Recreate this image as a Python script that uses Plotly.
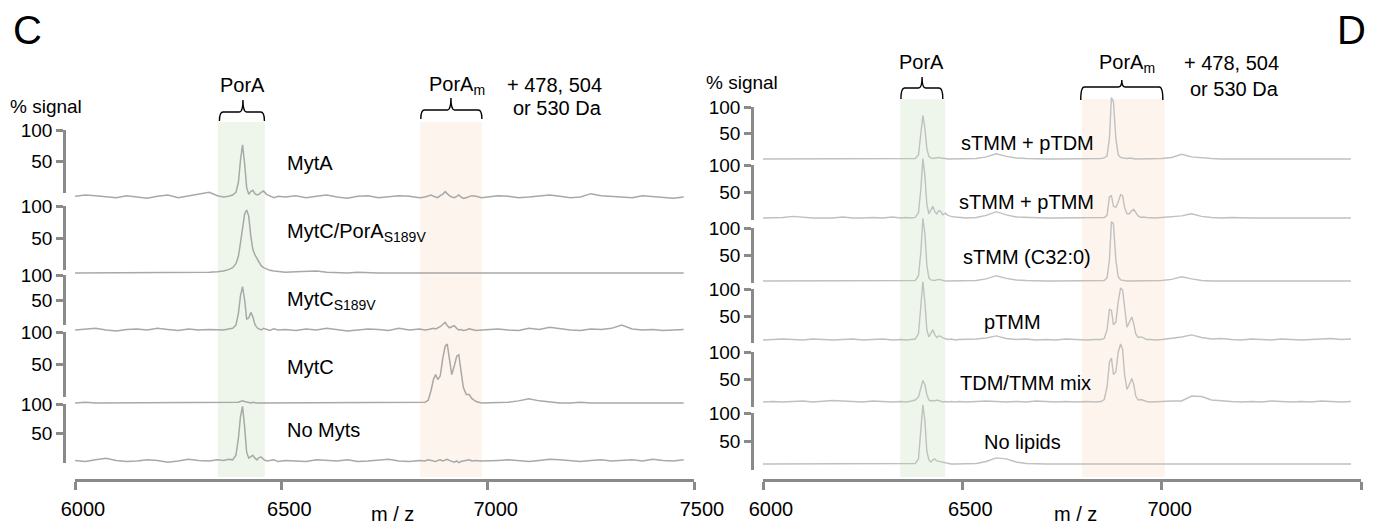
import plotly.graph_objects as go

W, H = 1384, 524

# shared m/z sampling grid (denser around the PorA and PorA_m peaks)
mz = [6000, 6025, 6050, 6075, 6100, 6125, 6150, 6175, 6200, 6225, 6250, 6275, 6300, 6325,
      6345, 6360, 6372, 6382, 6390, 6396, 6401, 6406, 6411, 6416, 6421, 6426, 6431, 6436,
      6441, 6446, 6451, 6457, 6464, 6472, 6482, 6492,
      6510, 6535, 6560, 6585, 6610, 6635, 6660, 6685, 6710, 6735, 6760, 6785, 6810, 6835,
      6848, 6856, 6863, 6869, 6874, 6879, 6885, 6891, 6897, 6902, 6907, 6913, 6919, 6925,
      6930, 6935, 6941, 6948, 6955, 6962, 6972, 6985,
      7000, 7025, 7050, 7075, 7100, 7125, 7150, 7175, 7200, 7225, 7250, 7275, 7300, 7325,
      7350, 7375, 7400, 7425, 7450, 7475]

# panel C: % signal
c_labels = ["MytA", "MytC/PorA<sub>S189V</sub>", "MytC<sub>S189V</sub>", "MytC", "No Myts"]
myta = [1, 3, 2, 0, -1, 2, 0, -2, 1, 3, -1, 2, 4, 7,
        2, 0, 1, 3, 7, 22, 55, 78, 50, 14, 4, 8, 10, 5, 3, 4, 7, 9, 4, 2, -1, 1,
        0, 2, -1, 1, 3, 0, -2, 1, 2, -1, 0, 2, 1, -1,
        0, 2, 3, 1, 0, -1, 2, 4, 8, 5, 2, 0, -1, 1, 3, 0, -2, -1, 0, 2, 1, -1,
        0, 2, 1, -1, 0, 2, 3, 1, -1, 0, 5, 2, 1, 0, -1, 2, 1, 0, -2, 0]
mytc_pora = [0, 0, 0, 1, 0, 0, 0, 1, 0, 0, 0, 1, 1, 1,
             2, 3, 5, 8, 14, 25, 45, 70, 88, 94, 85, 55, 35, 27, 22, 16, 11, 8, 6, 4, 3, 2,
             1, 2, 3, 3, 1, 0, 0, 1, 0, 0, 0, 0, 0, 0,
             0, 0, 0, 0, 0, 0, 1, 0, 0, 0, 0, 0, 0, 0, 0, 0, 0, 0, 0, 0, 0, 0,
             0, 0, 0, 0, 0, 0, 0, 0, 0, 0, 0, 0, 0, 0, 0, 0, 0, 0, 0, 0]
mytc_s189v = [0, 1, 3, 0, -2, 1, 2, 0, 3, 1, -1, 2, 0, 1,
              1, 0, 2, 3, 9, 30, 62, 79, 55, 20, 22, 32, 24, 10, 4, 2, 0, 3, 1, -1, 2, 0,
              1, -1, 2, 0, 3, 1, -2, 0, 2, 1, -1, 3, 0, 2,
              0, 1, 2, 3, 2, 4, 6, 10, 14, 8, 4, 6, 8, 3, 0, 1, -1, 0, 2, 1, -1, 0,
              1, 2, 0, -1, 3, 1, 5, 2, 0, -1, 2, 1, 3, 9, 2, 0, 1, -1, 0, 1]
mytc = [0, 1, 0, 0, 1, 0, 0, 1, 0, 0, 1, 0, 0, 0,
        0, 0, 0, 0, 1, 1, 2, 3, 2, 1, 0, 0, 1, 0, 0, 0, 0, 1, 0, 0, 0, 0,
        0, 0, 1, 0, 0, 0, 0, 0, 0, 1, 0, 0, 0, 0,
        1, 4, 18, 34, 40, 33, 38, 62, 80, 83, 62, 40, 52, 66, 68, 50, 22, 12, 12, 6, 2, 0,
        0, 0, 1, 3, 6, 3, 1, 0, 0, 1, 0, 0, 0, 0, 1, 0, 0, 0, 1, 0]
no_myts = [1, -1, 2, 5, 1, -1, 0, 2, 1, -2, 0, 3, 1, 0,
           2, 1, 3, 2, 10, 40, 78, 96, 60, 15, 5, 8, 10, 5, 2, 6, 7, 3, 0, 1, 2, -1,
           1, 0, -1, 2, 1, 0, 2, -1, 0, 1, 3, 0, -1, 1,
           0, 2, 1, 0, -1, 1, 2, 0, 1, 3, 1, -1, -2, 0, -3, -1, 0, 1, 2, 0, 1, 0,
           0, 1, 2, 0, -1, 1, 3, 2, 0, -1, 1, 2, 0, 1, 2, 0, 3, 1, 0, 2]
c_series = [myta, mytc_pora, mytc_s189v, mytc, no_myts]

# panel D: % signal
d_labels = ["sTMM + pTDM", "sTMM + pTMM", "sTMM (C32:0)", "pTMM", "TDM/TMM mix", "No lipids"]
stmm_ptdm = [0, 0, 0, 0, 0, 0, 0, 0, 0, 0, 0, 0, 0, 0,
             0, 0, 0, 1, 8, 45, 84, 60, 20, 5, 2, 1, 2, 3, 3, 2, 1, 1, 0, 0, 0, 0,
             0, 1, 4, 10, 5, 2, 1, 0, 0, 0, 0, 0, 0, 0,
             1, 2, 6, 40, 118, 110, 40, 8, 3, 2, 1, 1, 2, 1, 0, 0, 0, 0, 0, 0, 0, 0,
             1, 3, 9, 4, 2, 1, 0, 0, 0, 0, 0, 0, 0, 0, 0, 0, 0, 0, 0, 0]
stmm_ptmm = [0, 0, 1, 3, 1, 0, 0, 0, 2, 0, 0, 1, 0, 2,
             0, 1, 0, 1, 10, 55, 112, 80, 25, 8, 15, 22, 12, 8, 14, 12, 6, 9, 5, 3, 2, 1,
             0, 1, 5, 12, 6, 2, 1, 0, 0, 0, 0, 1, 0, 0,
             0, 1, 5, 40, 42, 22, 20, 30, 44, 42, 20, 8, 8, 14, 16, 10, 4, 1, 2, 1, 0, 0,
             1, 2, 4, 8, 3, 1, 0, 1, 0, 0, 0, 0, 1, 0, 0, 0, 1, 0, 0, 0]
stmm_c32 = [0, 0, 0, 0, 0, 0, 0, 0, 0, 0, 0, 0, 0, 0,
            0, 0, 0, 1, 10, 55, 118, 90, 30, 6, 2, 1, 1, 2, 3, 2, 1, 0, 0, 0, 0, 0,
            0, 1, 4, 10, 5, 2, 1, 0, 0, 0, 0, 0, 0, 0,
            0, 1, 6, 40, 112, 108, 40, 8, 2, 1, 0, 0, 0, 0, 0, 0, 0, 0, 0, 0, 0, 0,
            1, 3, 8, 4, 1, 0, 0, 0, 0, 0, 0, 0, 0, 0, 0, 0, 0, 0, 0, 0]
ptmm = [0, 1, 2, 1, 0, 2, 1, 0, 1, 2, 0, 1, 2, 0,
        1, 0, 1, 2, 12, 60, 114, 75, 20, 6, 12, 20, 10, 5, 8, 7, 4, 2, 1, 2, 0, 1,
        1, 2, 4, 8, 3, 1, 2, 0, 1, 0, 2, 1, 0, 1,
        1, 3, 20, 60, 58, 30, 35, 75, 102, 98, 60, 25, 35, 45, 32, 12, 5, 6, 4, 1, 1, 0,
        1, 3, 6, 10, 5, 2, 3, 1, 0, 2, 1, 0, 2, 1, 0, 1, 2, 3, 1, 2]
tdm_tmm = [0, 1, 0, 1, 2, 0, 1, 3, 2, 1, 0, 2, 1, 0,
           1, 0, 2, 4, 10, 30, 43, 35, 15, 4, 2, 3, 2, 4, 3, 1, 0, 1, 0, 1, 0, 1,
           0, 1, 2, 1, 0, 1, 0, 2, 1, 0, 1, 0, 1, 0,
           1, 5, 30, 80, 88, 55, 60, 100, 116, 105, 55, 25, 35, 47, 35, 12, 4, 5, 3, 1, 0, 1,
           1, 2, 2, 12, 11, 4, 2, 1, 0, 1, 0, 2, 1, 0, 1, 0, 2, 1, 0, 1]
no_lipids = [0, 0, 0, 0, 0, 0, 0, 0, 0, 0, 0, 0, 0, 0,
             0, 0, 0, 1, 10, 60, 116, 85, 25, 8, 4, 8, 10, 6, 5, 4, 3, 2, 1, 0, 0, 0,
             0, 1, 5, 12, 10, 4, 1, 0, 0, 0, 0, 0, 0, 0,
             0, 0, 0, 0, 0, 0, 0, 0, 0, 0, 0, 0, 0, 0, 0, 0, 0, 0, 0, 0, 0, 0,
             0, 0, 0, 0, 0, 0, 0, 0, 0, 0, 0, 0, 0, 0, 0, 0, 0, 0, 0, 0]
d_series = [stmm_ptdm, stmm_ptmm, stmm_c32, ptmm, tdm_tmm, no_lipids]

x_ticks = [6000, 6500, 7000, 7500]
y_ticks = [50, 100]

FONT = "Liberation Sans, Arial, sans-serif"
AXIS_GREY = "#8a8a8a"


def fx(p):
    return p / W


def fy(p):
    return 1 - p / H


fig = go.Figure()
layout = {}
n_y = [0]


def new_yaxis():
    n_y[0] += 1
    k = n_y[0]
    return ("yaxis" if k == 1 else f"yaxis{k}"), ("y" if k == 1 else f"y{k}")


def add_panel(xname, xkey, x_px, axis_x, tops, bots, bases, series, color, width):
    layout[xkey] = dict(
        domain=[fx(x_px[0]), fx(x_px[1])], range=[6000, 7500], anchor="free",
        position=fy(480), showline=True, linecolor=AXIS_GREY, linewidth=2.5,
        ticks="outside", ticklen=8, tickwidth=2.5, tickcolor=AXIS_GREY,
        tickvals=x_ticks, tickfont=dict(size=20, color="black", family=FONT),
        ticklabelshift=8, ticklabelstandoff=2, automargin=False,
        showgrid=False, zeroline=False, fixedrange=True)
    for top, bot, base, ys in zip(tops, bots, bases, series):
        # trace on an invisible axis: 0 at the baseline, 100 at the 100-tick
        s = 100 / (base - top)
        key, ref = new_yaxis()
        layout[key] = dict(domain=[fy(base + 10), fy(top - 40)],
                           range=[-10 * s, 100 + 40 * s], visible=False,
                           anchor=xname, fixedrange=True, automargin=False)
        fig.add_trace(go.Scatter(x=mz, y=ys, xaxis=xname, yaxis=ref, mode="lines",
                                 line=dict(color=color, width=width),
                                 hoverinfo="skip", showlegend=False))
        # the short broken y axis drawn beside each spectrum
        key, ref = new_yaxis()
        layout[key] = dict(domain=[fy(bot), fy(top)], range=[0, 100], anchor="free",
                           position=fx(axis_x), showline=True, linecolor=AXIS_GREY,
                           linewidth=2.5, ticks="outside", ticklen=7, tickwidth=2.5,
                           tickcolor=AXIS_GREY, tickvals=y_ticks,
                           tickfont=dict(size=19, color="black", family=FONT),
                           showgrid=False, zeroline=False, fixedrange=True,
                           automargin=False)
        fig.add_trace(go.Scatter(x=[None], y=[None], xaxis=xname, yaxis=ref,
                                 mode="lines", hoverinfo="skip", showlegend=False))


add_panel("x", "xaxis", (75, 694), 64,
          [130, 206, 275, 332, 404], [193, 270, 325, 397, 463],
          [197, 273, 330, 403, 461], c_series, "#a8a8a8", 1.5)
add_panel("x2", "xaxis2", (763, 1361), 752,
          [107, 165, 228, 289, 352, 413], [160, 220, 283, 343, 407, 470],
          [159, 218, 281, 340, 402, 464], d_series, "#c0c0c0", 1.4)

GREEN = "#eef6eb"
ORANGE = "#fdf4ee"
shapes = []


def band(xref, x0, x1, top, color):
    shapes.append(dict(type="rect", xref=xref, yref="paper", x0=x0, x1=x1,
                       y0=fy(477), y1=fy(top), fillcolor=color,
                       line=dict(width=0), layer="below"))


def bracket(xref, x0, x1, xm, y_line, y_end, y_notch, r=9):
    a, b, c = fy(y_line), fy(y_end), fy(y_notch)
    path = (f"M {x0},{b} Q {x0},{a} {x0 + r},{a} L {xm - r},{a} "
            f"Q {xm},{a} {xm},{c} Q {xm},{a} {xm + r},{a} "
            f"L {x1 - r},{a} Q {x1},{a} {x1},{b}")
    shapes.append(dict(type="path", xref=xref, yref="paper", path=path,
                       line=dict(color="black", width=1.4)))


band("x", 6346, 6460, 122, GREEN)
band("x", 6836, 6986, 122, ORANGE)
band("x2", 6344, 6457, 99, GREEN)
band("x2", 6800, 7008, 99, ORANGE)
bracket("x", 6350, 6459, 6407, 112, 121, 100)
bracket("x", 6838, 6986, 6911, 110, 119, 98)
bracket("x2", 6346, 6451, 6399, 88, 99, 77)
bracket("x2", 6797, 7003, 6900, 87, 100, 80)

annotations = []


def label(text, x, y, size=20, xanchor="center"):
    annotations.append(dict(text=text, x=fx(x), y=fy(y), xref="paper", yref="paper",
                            showarrow=False, xanchor=xanchor, yanchor="middle",
                            font=dict(size=size, color="black", family=FONT)))


label("C", 27, 30, size=40)
label("D", 1351, 30, size=40)
label("% signal", 46, 106, size=19)
label("% signal", 742, 83, size=19)
label("PorA", 243, 85)
label("PorA", 921, 62)
label("PorA<sub>m</sub>", 427, 85, xanchor="left")
label("PorA<sub>m</sub>", 1097, 63, xanchor="left")
label("+ 478, 504", 604, 85, xanchor="right")
label("or 530 Da", 604, 108, xanchor="right")
label("+ 478, 504", 1281, 63, xanchor="right")
label("or 530 Da", 1281, 89, xanchor="right")
label("m / z", 392, 514)
label("m / z", 1075, 514)

for text, y in zip(c_labels, [163, 233, 300, 367, 430]):
    label(text, 285, y, xanchor="left")
for text, x, y in zip(d_labels, [1027, 1026, 1027, 1012, 1025, 1022],
                      [143, 202, 257, 322, 383, 442]):
    label(text, x, y)

fig.update_layout(
    width=W, height=H, margin=dict(l=0, r=0, t=0, b=0),
    paper_bgcolor="white", plot_bgcolor="rgba(0,0,0,0)",
    font=dict(family=FONT, color="black"),
    shapes=shapes, annotations=annotations, showlegend=False,
    **layout)

# the page's default 8px body margin would push the figure off its canvas
fig.write_html("out.html", config={"displayModeBar": False},
               post_script="document.body.style.margin = '0';")
